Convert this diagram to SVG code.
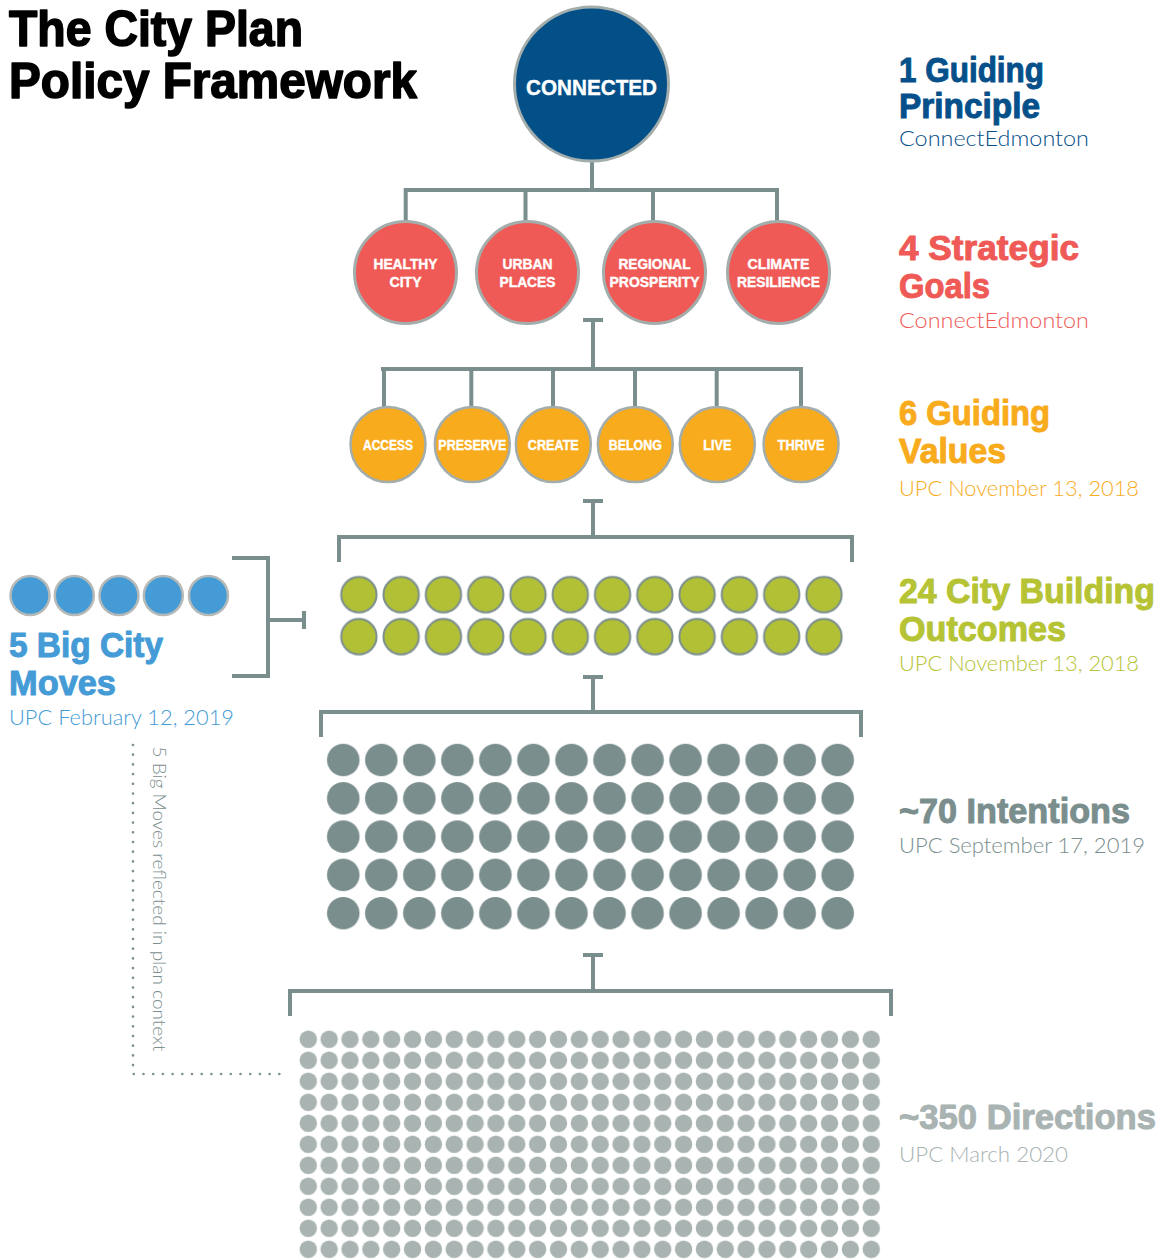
<svg xmlns="http://www.w3.org/2000/svg" width="1162" height="1260" viewBox="0 0 1162 1260">
<style>
.bg{fill:#ffffff}
.conn{fill:none;stroke:#7b8e8e;stroke-width:4;stroke-linecap:butt}
.dots{fill:none;stroke:#7f9292;stroke-width:2.7;stroke-linecap:round;stroke-dasharray:0 9.7}
.h{font-family:"Liberation Sans",Arial,sans-serif;font-weight:700;stroke-width:1;stroke-linejoin:round}
.s{font-family:Lato,"Liberation Sans",Arial,sans-serif;font-weight:300}
.title{font-size:50px;fill:#000000;stroke:#000000;stroke-width:1.6}
.head{font-size:35px}
.sub{font-size:21px}
.lbl{font-family:"Liberation Sans",Arial,sans-serif;font-weight:700;fill:#ffffff;stroke:#ffffff;stroke-width:0.4;text-anchor:middle}
.navy{fill:#05508a;stroke:#05508a}
.red{fill:#ef5a56;stroke:#ef5a56}
.orange{fill:#f8ab1c;stroke:#f8ab1c}
.green{fill:#b5c334;stroke:#b5c334}
.gray{fill:#7a8e8d;stroke:#7a8e8d}
.lgray{fill:#a8b3b2;stroke:#a8b3b2}
.blue{fill:#449bd6;stroke:#449bd6}
.s.navy,.s.red,.s.orange,.s.green,.s.gray,.s.lgray,.s.blue{stroke:none}
.cNavy{fill:#034f87;stroke:#a3adac;stroke-width:3}
.cRed{fill:#ef5a56;stroke:#a3adac;stroke-width:3}
.cOrange{fill:#f8ab1c;stroke:#a3adac;stroke-width:2.5}
.cBlue{fill:#449bd6;stroke:#b5b9b7;stroke-width:2.5}
</style>
<defs>
<pattern id="pGreen" patternUnits="userSpaceOnUse" x="337.76" y="573.7" width="42.28" height="42">
<circle cx="21.14" cy="21" r="17.7" fill="#b2c035" stroke="#7b8e8e" stroke-width="2"/>
</pattern>
<pattern id="pDark" patternUnits="userSpaceOnUse" x="324.285" y="740.85" width="38.03" height="38.3">
<circle cx="19.015" cy="19.15" r="16.3" fill="#7a8e8d"/>
</pattern>
<pattern id="pLight" patternUnits="userSpaceOnUse" x="297.875" y="1028.8" width="20.85" height="21">
<circle cx="10.425" cy="10.5" r="8.7" fill="#a8b3b2"/>
</pattern>
</defs>
<rect class="bg" x="0" y="0" width="1162" height="1260"/>

<g id="title">
<text class="h title" x="9" y="46" textLength="294" lengthAdjust="spacingAndGlyphs">The City Plan</text>
<text class="h title" x="9" y="98" textLength="408" lengthAdjust="spacingAndGlyphs">Policy Framework</text>
</g>

<g id="connectors">
<path class="conn" d="M592 162 V190 M404 190 H779 M405.7 188 V222 M525.5 188 V222 M653 188 V222 M777 188 V222"/>
<path class="conn" d="M583 320 H603 M593 320 V369 M381 369 H801 M384 367 V408 M471.3 367 V408 M553 367 V408 M635 367 V408 M716.7 367 V408 M801 367 V408"/>
<path class="conn" d="M583 501 H603 M593 501 V537 M339 562 V537 H852 V562"/>
<path class="conn" d="M583 677 H603 M593 677 V712 M321 737 V712 H861 V737"/>
<path class="conn" d="M583 955 H603 M593 955 V991 M290 1016 V991 H891 V1016"/>
<path class="conn" d="M232 558 H268 V676 H232 M268 620 H304 M304 611 V629"/>
<path class="dots" d="M133 745 V1074 H288"/>
</g>

<g id="node-connected">
<circle class="cNavy" cx="591.5" cy="84" r="77"/>
<text class="lbl" x="591.5" y="95" font-size="22" textLength="131" lengthAdjust="spacingAndGlyphs">CONNECTED</text>
</g>

<g id="node-healthy-city">
<circle class="cRed" cx="405.5" cy="272.5" r="51"/>
<text class="lbl" x="405.5" y="269" font-size="14.5" textLength="64" lengthAdjust="spacingAndGlyphs">HEALTHY</text>
<text class="lbl" x="405.5" y="287" font-size="14.5" textLength="32" lengthAdjust="spacingAndGlyphs">CITY</text>
</g>
<g id="node-urban-places">
<circle class="cRed" cx="527.5" cy="272.5" r="51"/>
<text class="lbl" x="527.5" y="269" font-size="14.5" textLength="50" lengthAdjust="spacingAndGlyphs">URBAN</text>
<text class="lbl" x="527.5" y="287" font-size="14.5" textLength="56" lengthAdjust="spacingAndGlyphs">PLACES</text>
</g>
<g id="node-regional-prosperity">
<circle class="cRed" cx="654.5" cy="272.5" r="51"/>
<text class="lbl" x="654.5" y="269" font-size="14.5" textLength="72" lengthAdjust="spacingAndGlyphs">REGIONAL</text>
<text class="lbl" x="654.5" y="287" font-size="14.5" textLength="90" lengthAdjust="spacingAndGlyphs">PROSPERITY</text>
</g>
<g id="node-climate-resilience">
<circle class="cRed" cx="778.5" cy="272.5" r="51"/>
<text class="lbl" x="778.5" y="269" font-size="14.5" textLength="62" lengthAdjust="spacingAndGlyphs">CLIMATE</text>
<text class="lbl" x="778.5" y="287" font-size="14.5" textLength="83" lengthAdjust="spacingAndGlyphs">RESILIENCE</text>
</g>

<g id="node-access">
<circle class="cOrange" cx="388" cy="444.5" r="37.5"/>
<text class="lbl" x="388" y="450" font-size="14.5" textLength="50" lengthAdjust="spacingAndGlyphs">ACCESS</text>
</g>
<g id="node-preserve">
<circle class="cOrange" cx="472.3" cy="444.5" r="37.5"/>
<text class="lbl" x="472.3" y="450" font-size="14.5" textLength="68" lengthAdjust="spacingAndGlyphs">PRESERVE</text>
</g>
<g id="node-create">
<circle class="cOrange" cx="553.3" cy="444.5" r="37.5"/>
<text class="lbl" x="553.3" y="450" font-size="14.5" textLength="51" lengthAdjust="spacingAndGlyphs">CREATE</text>
</g>
<g id="node-belong">
<circle class="cOrange" cx="635.3" cy="444.5" r="37.5"/>
<text class="lbl" x="635.3" y="450" font-size="14.5" textLength="53" lengthAdjust="spacingAndGlyphs">BELONG</text>
</g>
<g id="node-live">
<circle class="cOrange" cx="717.3" cy="444.5" r="37.5"/>
<text class="lbl" x="717.3" y="450" font-size="14.5" textLength="28" lengthAdjust="spacingAndGlyphs">LIVE</text>
</g>
<g id="node-thrive">
<circle class="cOrange" cx="801.1" cy="444.5" r="37.5"/>
<text class="lbl" x="801.1" y="450" font-size="14.5" textLength="47" lengthAdjust="spacingAndGlyphs">THRIVE</text>
</g>

<g id="node-outcomes">
<rect x="337.76" y="573.7" width="507.36" height="84" fill="url(#pGreen)"/>
</g>
<g id="node-intentions">
<rect x="324.285" y="740.85" width="532.42" height="191.5" fill="url(#pDark)"/>
</g>
<g id="node-directions">
<rect x="297.875" y="1028.8" width="583.8" height="231.2" fill="url(#pLight)"/>
</g>

<g id="node-big-city-moves">
<circle class="cBlue" cx="30" cy="595.5" r="19.5"/>
<circle class="cBlue" cx="74.3" cy="595.5" r="19.5"/>
<circle class="cBlue" cx="119" cy="595.5" r="19.5"/>
<circle class="cBlue" cx="163.3" cy="595.5" r="19.5"/>
<circle class="cBlue" cx="208.5" cy="595.5" r="19.5"/>
<text class="h head blue" x="9" y="657" textLength="154" lengthAdjust="spacingAndGlyphs">5 Big City</text>
<text class="h head blue" x="9" y="695" textLength="107" lengthAdjust="spacingAndGlyphs">Moves</text>
<text class="s sub blue" x="9" y="725" textLength="225" lengthAdjust="spacingAndGlyphs">UPC February 12, 2019</text>
</g>

<g id="note">
<text class="s gray" font-size="17" transform="translate(153 746.5) rotate(90)" textLength="305" lengthAdjust="spacingAndGlyphs">5 Big Moves reflected in plan context</text>
</g>

<g id="label-principle">
<text class="h head navy" x="899" y="82" textLength="145" lengthAdjust="spacingAndGlyphs">1 Guiding</text>
<text class="h head navy" x="899" y="118" textLength="141" lengthAdjust="spacingAndGlyphs">Principle</text>
<text class="s sub navy" x="899" y="146" textLength="190" lengthAdjust="spacingAndGlyphs">ConnectEdmonton</text>
</g>
<g id="label-goals">
<text class="h head red" x="899" y="260" textLength="180" lengthAdjust="spacingAndGlyphs">4 Strategic</text>
<text class="h head red" x="899" y="298" textLength="91" lengthAdjust="spacingAndGlyphs">Goals</text>
<text class="s sub red" x="899" y="328" textLength="190" lengthAdjust="spacingAndGlyphs">ConnectEdmonton</text>
</g>
<g id="label-values">
<text class="h head orange" x="899" y="425" textLength="151" lengthAdjust="spacingAndGlyphs">6 Guiding</text>
<text class="h head orange" x="899" y="463" textLength="107" lengthAdjust="spacingAndGlyphs">Values</text>
<text class="s sub orange" x="899" y="496" textLength="240" lengthAdjust="spacingAndGlyphs">UPC November 13, 2018</text>
</g>
<g id="label-outcomes">
<text class="h head green" x="899" y="603" textLength="256" lengthAdjust="spacingAndGlyphs">24 City Building</text>
<text class="h head green" x="899" y="641" textLength="167" lengthAdjust="spacingAndGlyphs">Outcomes</text>
<text class="s sub green" x="899" y="671" textLength="240" lengthAdjust="spacingAndGlyphs">UPC November 13, 2018</text>
</g>
<g id="label-intentions">
<text class="h head gray" x="899" y="823" textLength="231" lengthAdjust="spacingAndGlyphs">~70 Intentions</text>
<text class="s sub gray" x="899" y="853" textLength="246" lengthAdjust="spacingAndGlyphs">UPC September 17, 2019</text>
</g>
<g id="label-directions">
<text class="h head lgray" x="899" y="1129" textLength="257" lengthAdjust="spacingAndGlyphs">~350 Directions</text>
<text class="s sub lgray" x="899" y="1162" textLength="169" lengthAdjust="spacingAndGlyphs">UPC March 2020</text>
</g>
</svg>
